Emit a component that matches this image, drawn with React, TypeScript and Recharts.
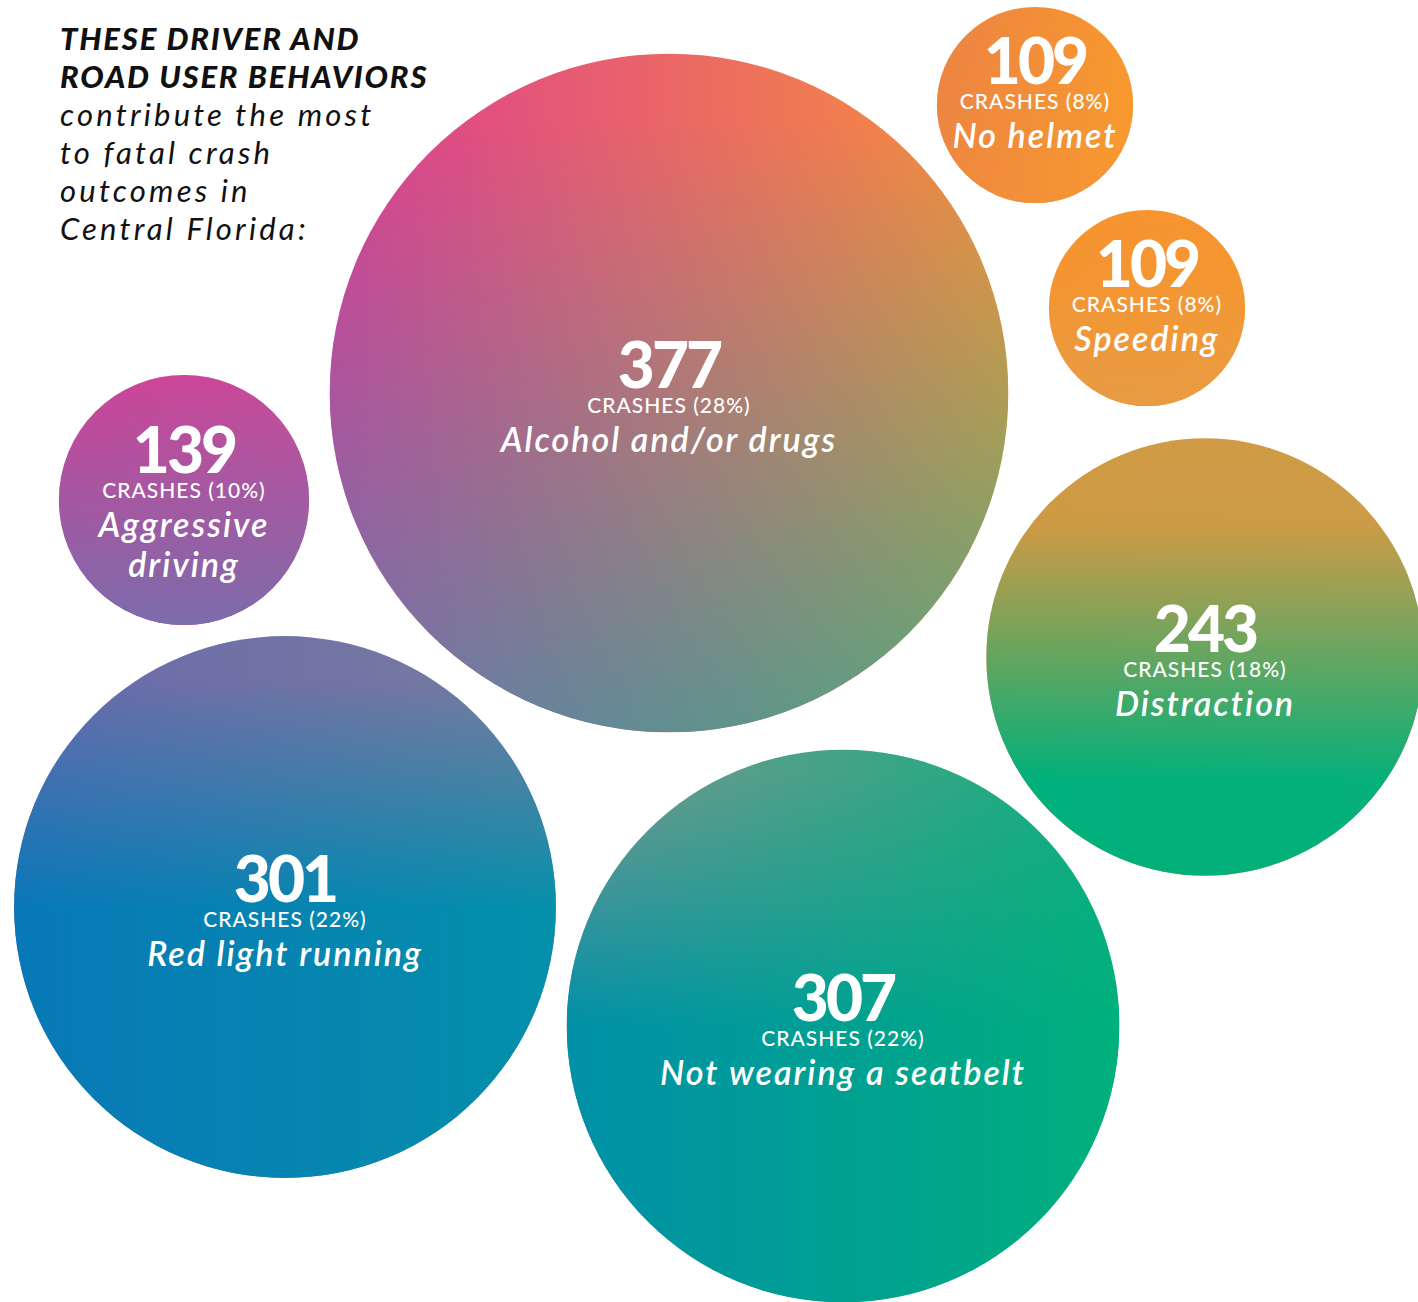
import React from "react";
import { ScatterChart, Scatter, XAxis, YAxis, ZAxis } from "recharts";

// values
const behaviors = [
  "No helmet",
  "Speeding",
  "Alcohol and/or drugs",
  "Aggressive driving",
  "Distraction",
  "Red light running",
  "Not wearing a seatbelt",
];
const labelLines = [
  ["No helmet"],
  ["Speeding"],
  ["Alcohol and/or drugs"],
  ["Aggressive", "driving"],
  ["Distraction"],
  ["Red light running"],
  ["Not wearing a seatbelt"],
];
const crashes = [109, 109, 377, 139, 243, 301, 307];
const shares = [8, 8, 28, 10, 18, 22, 22];

// packing layout of the bubbles (canvas units), kept apart from the values
const layoutX = [1035, 1147, 669, 184, 1205, 285, 843];
const layoutY = [105, 308, 393, 500, 657, 907, 1026];

const titleBold = ["THESE DRIVER AND", "ROAD USER BEHAVIORS"];
const titleRest = ["contribute the most", "to fatal crash", "outcomes in", "Central Florida:"];

const W = 1418;
const H = 1302;
const PX_PER_CRASH = 0.9; // bubble radius grows linearly with the count
const FONT = "Lato, 'Open Sans', sans-serif";

type Palette = { top: [string, string]; bottom: [string, string]; fade: [number, number][] };

const palettes: Palette[] = [
  { top: ["#ec8344", "#f8992e"], bottom: ["#ee8840", "#f7992f"], fade: [[0, 0], [1, 1]] },
  { top: ["#f7942f", "#f7962f"], bottom: ["#e69b45", "#e89c42"], fade: [[0, 0], [0.4, 0.2], [1, 1]] },
  { top: ["#dc3d93", "#f8913a"], bottom: ["#6c74ac", "#54aa78"], fade: [[0, 0], [0.1, 0], [1, 1]] },
  { top: ["#cf4398", "#c94a9a"], bottom: ["#7a6cac", "#7c6caa"], fade: [[0, 0], [1, 1]] },
  { top: ["#d29a44", "#cf9c47"], bottom: ["#00b07a", "#06b07a"], fade: [[0, 0], [0.2, 0.02], [0.78, 1], [1, 1]] },
  { top: ["#6a6aac", "#787c9e"], bottom: ["#0878b8", "#0490aa"], fade: [[0, 0], [0.08, 0], [0.5, 1], [1, 1]] },
  { top: ["#78968f", "#0cb07e"], bottom: ["#0090a8", "#00b07c"], fade: [[0, 0], [0.05, 0], [0.5, 1], [1, 1]] },
];

const tableData = behaviors.map((name, i) => ({
  i,
  name,
  crashes: crashes[i],
  share: shares[i],
  lines: labelLines[i],
  x: layoutX[i],
  y: layoutY[i],
  z: crashes[i] * crashes[i],
}));

const maxZ = Math.max(...tableData.map((d) => d.z));
const maxArea = Math.PI * Math.pow(PX_PER_CRASH * Math.sqrt(maxZ), 2);

function Bubble(props: any) {
  const { cx, cy, width, payload } = props;
  const r = width / 2;
  const p = palettes[payload.i];
  const id = `bub${payload.i}`;
  const lines: string[] = payload.lines;
  const numY = cy - 5 - (r < 110 ? 16 : 0) - (lines.length - 1) * 22;

  return (
    <g>
      <defs>
        <linearGradient id={`${id}-t`} gradientUnits="userSpaceOnUse" x1={cx - r} y1={cy} x2={cx + r} y2={cy}>
          <stop offset="0" stopColor={p.top[0]} />
          <stop offset="1" stopColor={p.top[1]} />
        </linearGradient>
        <linearGradient id={`${id}-b`} gradientUnits="userSpaceOnUse" x1={cx - r} y1={cy} x2={cx + r} y2={cy}>
          <stop offset="0" stopColor={p.bottom[0]} />
          <stop offset="1" stopColor={p.bottom[1]} />
        </linearGradient>
        <linearGradient id={`${id}-f`} gradientUnits="userSpaceOnUse" x1={cx} y1={cy - r} x2={cx} y2={cy + r}>
          {p.fade.map(([o, v], k) => (
            <stop key={k} offset={o} stopColor="#fff" stopOpacity={v} />
          ))}
        </linearGradient>
        <mask id={`${id}-m`} maskUnits="userSpaceOnUse" x={cx - r} y={cy - r} width={2 * r} height={2 * r}>
          <rect x={cx - r} y={cy - r} width={2 * r} height={2 * r} fill={`url(#${id}-f)`} />
        </mask>
      </defs>
      <circle cx={cx} cy={cy} r={r} fill={`url(#${id}-t)`} />
      <circle cx={cx} cy={cy} r={r} fill={`url(#${id}-b)`} mask={`url(#${id}-m)`} />
      <text
        x={cx}
        y={numY}
        textAnchor="middle"
        fill="#fff"
        fontFamily={FONT}
        fontWeight={900}
        fontSize={64}
        letterSpacing={-3}
      >
        {payload.crashes}
      </text>
      <text
        x={cx}
        y={numY + 25}
        textAnchor="middle"
        fill="#fff"
        fontFamily={FONT}
        fontWeight={500}
        fontSize={21}
        letterSpacing={1}
      >
        {`CRASHES (${payload.share}%)`}
      </text>
      {lines.map((ln, k) => (
        <text
          key={k}
          x={cx}
          y={numY + 64 + k * 40}
          textAnchor="middle"
          fill="#fff"
          fontFamily={FONT}
          fontStyle="italic"
          fontWeight={600}
          fontSize={34}
          letterSpacing={2}
        >
          {ln}
        </text>
      ))}
    </g>
  );
}

export default function App() {
  return (
    <div style={{ position: "relative", width: W, height: H, background: "#fff", overflow: "hidden" }}>
      <style>{"body{margin:0}"}</style>
      <ScatterChart width={W} height={H} margin={{ top: 0, right: 0, bottom: 0, left: 0 }}>
        <XAxis type="number" dataKey="x" domain={[0, W]} hide />
        <YAxis type="number" dataKey="y" domain={[0, H]} reversed hide />
        <ZAxis type="number" dataKey="z" domain={[0, maxZ]} range={[0, maxArea]} />
        <Scatter data={tableData} shape={<Bubble />} isAnimationActive={false} />
      </ScatterChart>
      <div
        style={{
          position: "absolute",
          left: 60,
          top: 19,
          fontFamily: FONT,
          fontSize: 31,
          lineHeight: "38px",
          color: "#111",
          fontStyle: "italic",
          whiteSpace: "nowrap",
        }}
      >
        {titleBold.map((t) => (
          <div key={t} style={{ fontWeight: 900, letterSpacing: 1.8 }}>
            {t}
          </div>
        ))}
        {titleRest.map((t) => (
          <div key={t} style={{ fontWeight: 400, letterSpacing: 3.2 }}>
            {t}
          </div>
        ))}
      </div>
    </div>
  );
}
